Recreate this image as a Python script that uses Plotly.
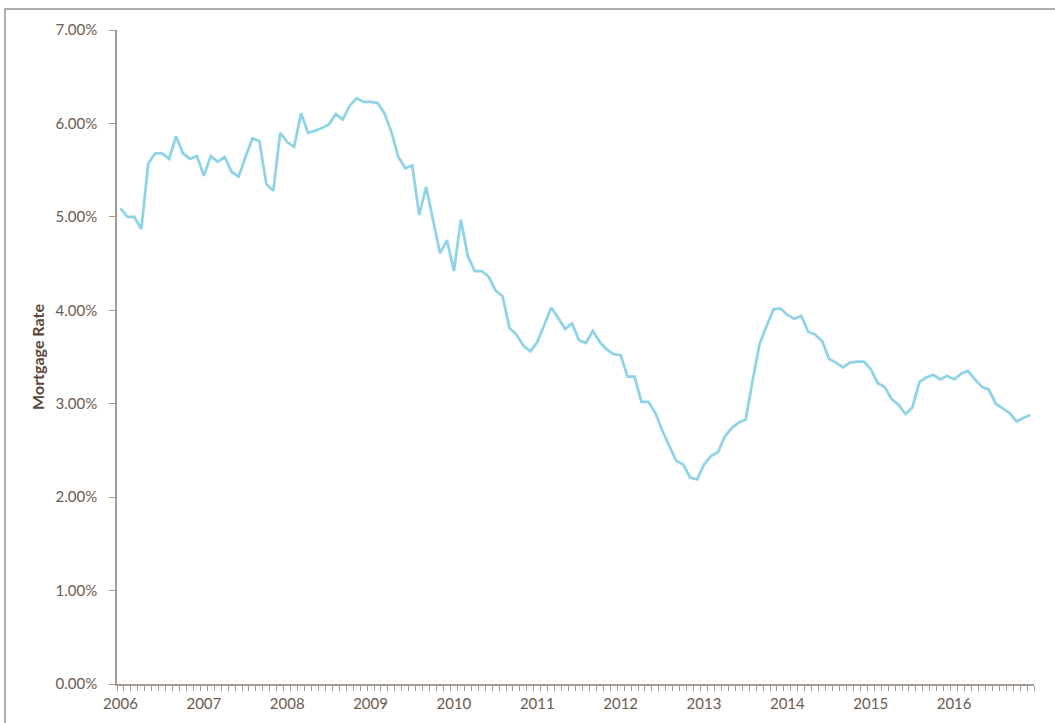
import plotly.graph_objects as go
import pandas as pd

# Monthly categories, Jan 2006 - Dec 2016
months = [d.strftime("%Y-%m") for d in pd.date_range("2006-01-01", "2016-12-01", freq="MS")]

# Mortgage rate (%)
rate = [
    5.09, 5.00, 5.00, 4.87, 5.57, 5.68, 5.68, 5.62, 5.86, 5.68, 5.62, 5.65,  # 2006
    5.44, 5.65, 5.59, 5.64, 5.48, 5.43, 5.64, 5.84, 5.81, 5.35, 5.28, 5.90,  # 2007
    5.80, 5.75, 6.11, 5.90, 5.92, 5.95, 5.99, 6.10, 6.04, 6.19, 6.27, 6.23,  # 2008
    6.23, 6.22, 6.11, 5.91, 5.64, 5.52, 5.55, 5.02, 5.32, 4.96, 4.61, 4.75,  # 2009
    4.42, 4.97, 4.58, 4.42, 4.42, 4.36, 4.21, 4.15, 3.81, 3.74, 3.62, 3.56,  # 2010
    3.66, 3.84, 4.03, 3.92, 3.80, 3.86, 3.68, 3.65, 3.78, 3.66, 3.58, 3.53,  # 2011
    3.52, 3.29, 3.29, 3.02, 3.02, 2.90, 2.71, 2.55, 2.39, 2.35, 2.21, 2.19,  # 2012
    2.35, 2.44, 2.48, 2.65, 2.74, 2.80, 2.83, 3.25, 3.64, 3.83, 4.01, 4.02,  # 2013
    3.95, 3.91, 3.94, 3.77, 3.74, 3.67, 3.48, 3.44, 3.39, 3.44, 3.45, 3.45,  # 2014
    3.37, 3.22, 3.18, 3.05, 2.99, 2.89, 2.96, 3.23, 3.28, 3.31, 3.26, 3.30,  # 2015
    3.26, 3.32, 3.35, 3.26, 3.18, 3.15, 3.00, 2.95, 2.90, 2.81, 2.85, 2.88,  # 2016
]

# One label per year, on the January category
tick_text = [m[:4] if m.endswith("-01") else "" for m in months]

axis_color = "#A59C94"
text_color = "#6B5A4E"
font_family = "Lato, Open Sans, sans-serif"

fig = go.Figure()

fig.add_trace(
    go.Scatter(
        x=months,
        y=rate,
        mode="lines",
        line=dict(color="#8FD3E6", width=2.75),
        name="Mortgage Rate",
        showlegend=False,
    )
)

fig.update_layout(
    width=1055,
    height=723,
    margin=dict(l=117, r=21, t=30, b=39),
    plot_bgcolor="white",
    paper_bgcolor="white",
    font=dict(family=font_family, color=text_color, size=15),
)

fig.update_xaxes(
    type="category",
    range=[-0.5, len(months) - 0.5],
    tickmode="array",
    tickvals=months,
    ticktext=tick_text,
    tickson="boundaries",
    ticks="outside",
    ticklen=5,
    tickwidth=1,
    tickcolor=axis_color,
    showline=True,
    linecolor=axis_color,
    linewidth=1.5,
    showgrid=False,
    zeroline=False,
    tickangle=0,
    ticklabelstandoff=5,
    tickfont=dict(size=15, color=text_color),
)

fig.update_yaxes(
    range=[0, 7],
    dtick=1,
    tickformat=".2f",
    ticksuffix="%",
    ticks="outside",
    ticklen=6,
    tickcolor=axis_color,
    showline=True,
    linecolor=axis_color,
    linewidth=1.5,
    showgrid=False,
    zeroline=False,
    ticklabelstandoff=9,
    tickfont=dict(size=15, color=text_color),
    title=dict(
        text="<b>Mortgage Rate</b>",
        font=dict(size=16, color="#5B4638", family=font_family),
        standoff=7,
    ),
)

# outer frame of the chart (extends past the right and bottom edges)
fig.add_shape(
    type="rect",
    xref="paper", yref="paper",
    x0=(5 - 117) / 917, x1=1.1,
    y0=-0.2, y1=1 + (30 - 9) / 654,
    line=dict(color="#9C9490", width=1.5),
    fillcolor="rgba(0,0,0,0)",
    layer="below",
)

# drop the default page margin so the figure sits at the window's corner
fig.write_html(
    "out.html",
    config={"displayModeBar": False},
    post_script="document.body.style.margin='0';",
)
